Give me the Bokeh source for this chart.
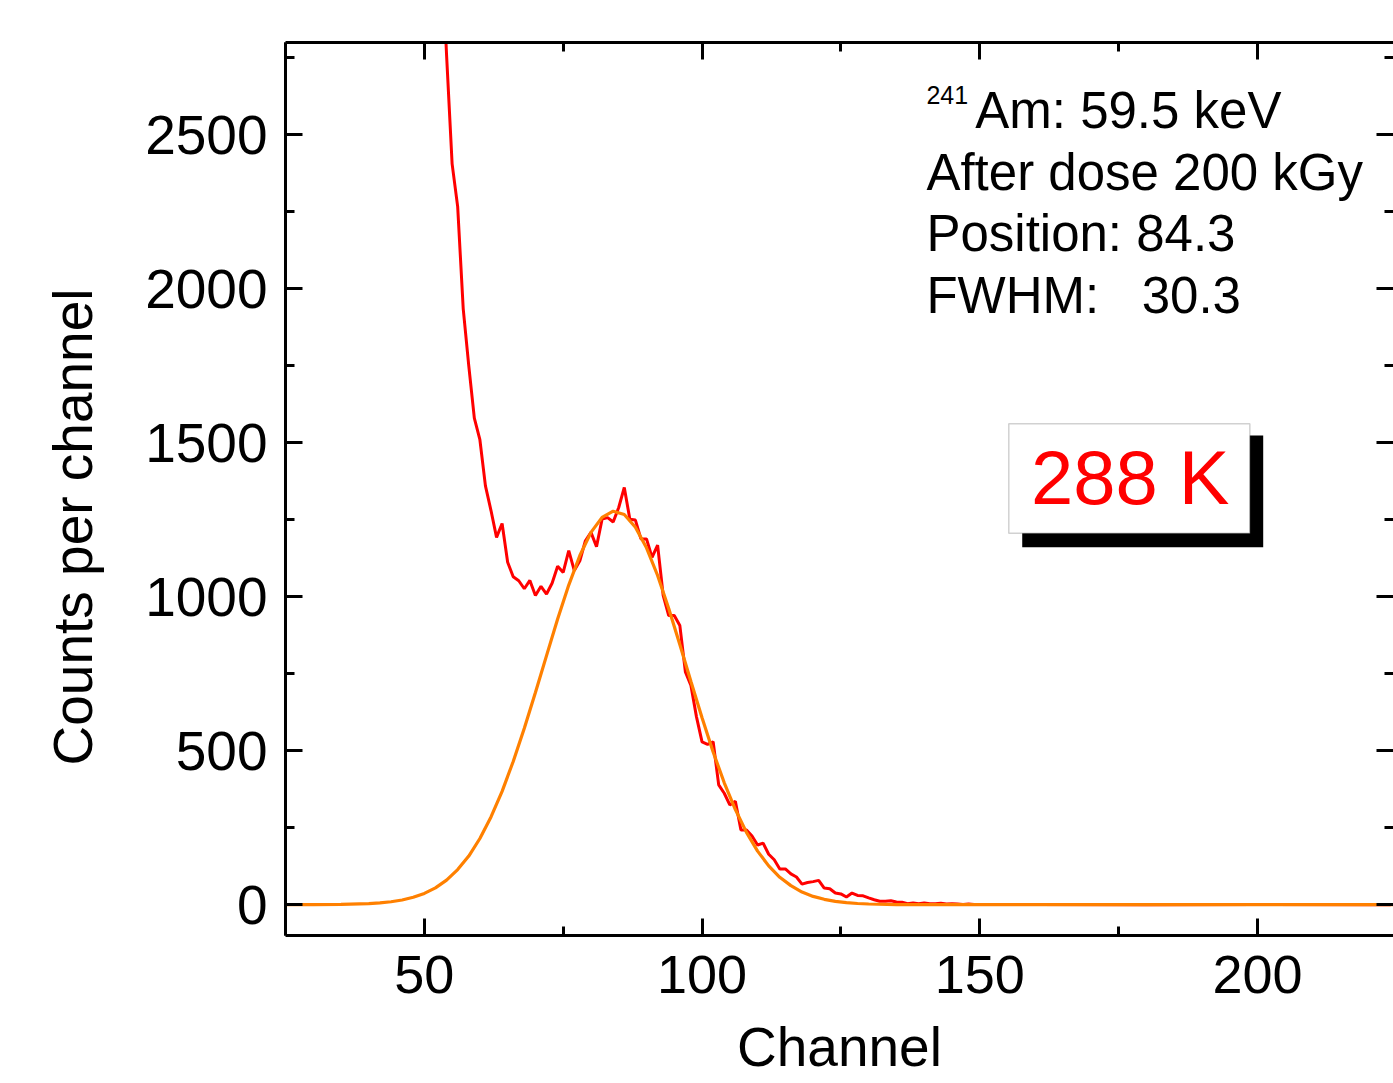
from bokeh.plotting import figure
from bokeh.models import LinearAxis, SingleIntervalTicker, Label, BoxAnnotation, Title
from bokeh.embed import file_html
from bokeh.resources import INLINE

# ---- data ----
channels = list(range(53, 151)) + [160, 180, 200, 224]
counts = [3150, 2760, 2406, 2267, 1935, 1750, 1580, 1510, 1360, 1280,
          1193, 1238, 1112, 1065, 1052, 1026, 1053, 1004, 1034, 1009,
          1044, 1099, 1079, 1150, 1085, 1117, 1182, 1209, 1163, 1252,
          1257, 1243, 1290, 1355, 1252, 1249, 1188, 1188, 1128, 1168,
          1005, 939, 939, 907, 756, 712, 610, 529, 521, 529,
          389, 362, 324, 336, 243, 243, 223, 194, 200, 164,
          146, 116, 116, 100, 90, 67, 72, 75, 79, 54,
          52, 38, 35, 25, 38, 30, 29, 22, 16, 11,
          11, 13, 9, 8, 3, 6, 3, 6, 3, 3,
          5, 2, 3, 2, 1, 2, 1, 1,
          1, 0, 1, 0]

fit_channels = [25, 30, 35, 40, 42, 44, 46, 48, 50, 52, 54, 56, 58, 60, 62, 64,
                66, 68, 70, 72, 74, 76, 78, 80, 82, 84, 86, 88, 90, 92, 94, 96,
                98, 100, 102, 104, 106, 108, 110, 112, 114, 116, 118, 120, 122,
                124, 126, 128, 130, 135, 140, 150, 225]
fit_counts = [0, 0.2, 0.8, 3.4, 5.8, 9.5, 15.3, 24, 36.7, 54.8, 80, 114, 158, 215,
              285, 368, 465, 573, 689, 809, 928, 1038, 1134, 1209, 1258, 1278,
              1267, 1226, 1159, 1069, 962, 845, 725, 607, 496, 396, 309, 235,
              174, 126, 89, 62, 41, 27, 17.5, 11, 6.7, 4.0, 2.3, 0.5, 0.1, 0, 0]

x_ticks_interval = 50
y_ticks_interval = 500

FONT = "Liberation Sans"

p = figure(width=1393, height=1083, x_range=(25, 224.5), y_range=(-100, 2800),
           output_backend="svg", toolbar_location=None,
           min_border_left=285, min_border_right=0, min_border_top=42,
           min_border_bottom=148)
p.grid.visible = False
p.outline_line_color = None
p.background_fill_color = "white"
p.border_fill_color = "white"

p.line(channels, counts, line_color="#FF0000", line_width=3)
p.line(fit_channels, fit_counts, line_color="#FF8000", line_width=3.2)


def style(ax, labels=True, line=True, size="54px"):
    ax.major_tick_in = 17
    ax.major_tick_out = 0
    ax.minor_tick_in = 9
    ax.minor_tick_out = 0
    ax.major_tick_line_width = 3
    ax.minor_tick_line_width = 3
    ax.major_tick_line_color = "black"
    ax.minor_tick_line_color = "black"
    ax.axis_line_width = 3
    ax.axis_line_color = "black" if line else None
    if labels:
        ax.major_label_text_font = FONT
        ax.major_label_text_font_size = size
        ax.major_label_text_color = "black"
    else:
        ax.major_label_text_font_size = "0px"
        ax.major_label_standoff = 0


p.xaxis.ticker = SingleIntervalTicker(interval=x_ticks_interval, num_minor_ticks=2)
p.yaxis.ticker = SingleIntervalTicker(interval=y_ticks_interval, num_minor_ticks=2)
for ax in p.xaxis:
    style(ax)
    ax.major_label_standoff = 20
    ax.axis_label = "Channel"
    ax.axis_label_text_font = FONT
    ax.axis_label_text_font_size = "55px"
    ax.axis_label_text_font_style = "normal"
    ax.axis_label_text_color = "black"
    ax.axis_label_standoff = 20
for ax in p.yaxis:
    style(ax, size="55px")
    ax.major_label_standoff = 18

top = LinearAxis(ticker=SingleIntervalTicker(interval=x_ticks_interval, num_minor_ticks=2))
style(top, labels=False)
p.add_layout(top, "above")
right = LinearAxis(ticker=SingleIntervalTicker(interval=y_ticks_interval, num_minor_ticks=2))
style(right, labels=False, line=False)
p.add_layout(right, "right")

# y axis title
ytitle = Title(text="Counts per channel", align="left", offset=170, standoff=78,
               text_font=FONT, text_font_size="55px", text_font_style="normal",
               text_color="black")
p.add_layout(ytitle, "left")

# annotation text block
tx = 140.4
p.add_layout(Label(x=tx, y=2631, text="241", text_font=FONT, text_font_size="25px",
                   text_baseline="alphabetic", text_color="black"))
p.add_layout(Label(x=149.2, y=2579, text="Am: 59.5 keV", text_font=FONT,
                   text_font_size="51px", text_baseline="alphabetic", text_color="black"))
p.add_layout(Label(x=tx, y=2378, text="After dose 200 kGy", text_font=FONT,
                   text_font_size="51px", text_baseline="alphabetic", text_color="black"))
p.add_layout(Label(x=tx, y=2180, text="Position: 84.3", text_font=FONT,
                   text_font_size="51px", text_baseline="alphabetic", text_color="black"))
p.add_layout(Label(x=tx, y=1978, text="FWHM:\u00a0\u00a0\u00a030.3", text_font=FONT,
                   text_font_size="51px", text_baseline="alphabetic", text_color="black"))

# temperature box with shadow
p.add_layout(BoxAnnotation(left=157.65, right=201.04, top=1523.7, bottom=1161,
                           fill_color="black", fill_alpha=1, line_color=None))
p.add_layout(BoxAnnotation(left=155.23, right=198.63, top=1561.7, bottom=1206.5,
                           fill_color="white", fill_alpha=1, line_color="#666666",
                           line_width=1.5))
p.add_layout(Label(x=177.1, y=1387, text="288 K", text_align="center",
                   text_baseline="alphabetic", text_font=FONT, text_font_size="76px",
                   text_color="#FF0000"))

open("out.html", "w").write(file_html(p, INLINE))
